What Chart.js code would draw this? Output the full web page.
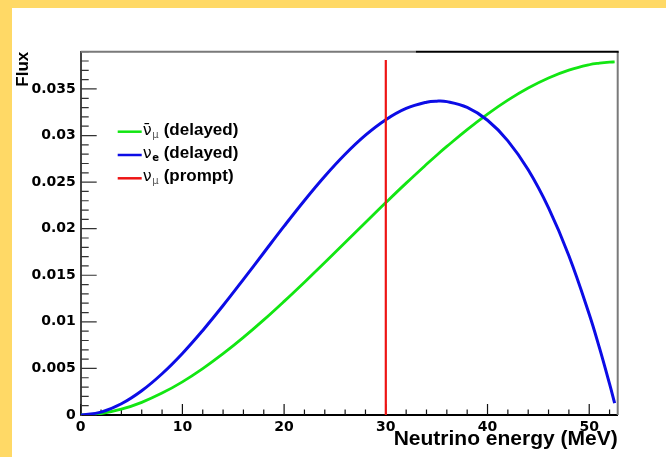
<!DOCTYPE html>
<html>
<head>
<meta charset="utf-8">
<script src="https://cdn.jsdelivr.net/npm/chart.js@4"></script>
<style>
  html, body { margin: 0; padding: 0; }
  body { width: 666px; height: 457px; background: #ffd966; position: relative; overflow: hidden; }
  #frame { position: absolute; left: 12px; top: 8px; width: 654px; height: 449px; background: #fff; }
</style>
</head>
<body>
<div id="frame"><canvas id="fluxChart"></canvas></div>
<script>
// sampled neutrino energies (MeV)
const energy = [0, 2, 4, 6, 8, 10, 12, 14, 16, 18, 20, 22, 24, 26, 28, 30, 32, 34, 35, 36, 38, 40, 42, 44, 46, 48, 50, 51, 52, 52.5];

// delayed muon antineutrino flux
const antiNuMuDelayed = [0, 0.00016, 0.00062, 0.00136, 0.00235, 0.00356, 0.00498, 0.00658, 0.00833, 0.01021,
  0.0122, 0.01426, 0.01637, 0.01852, 0.02067, 0.0228, 0.02489, 0.02691, 0.02789, 0.02883,
  0.03064, 0.0323, 0.0338, 0.0351, 0.03618, 0.03702, 0.0376, 0.03777, 0.03788, 0.0379];

// delayed electron neutrino flux
const nuEDelayed = [0, 0.000314, 0.001206, 0.002603, 0.00443, 0.00661, 0.00908, 0.01175, 0.01456, 0.01742,
  0.02027, 0.02303, 0.02563, 0.02799, 0.03004, 0.0317, 0.03291, 0.03358, 0.03369, 0.03364,
  0.03302, 0.03164, 0.02943, 0.02632, 0.02223, 0.01709, 0.01082, 0.00723, 0.00334, 0.00128];

// prompt muon neutrino line
const promptEnergy = [30, 30];
const promptFlux = [0, 0.0381];

// legend: base symbol, overbar, subscript, trailing text
const legendSymbol = ['\u03bd', '\u03bd', '\u03bd'];
const legendBar = [true, false, false];
const legendSub = ['\u03bc', 'e', '\u03bc'];
const legendText = ['(delayed)', '(delayed)', '(prompt)'];

const colGreen = '#12e612';
const colBlue = '#0c0ce6';
const colRed = '#ee1414';

function toPoints(xs, ys) {
  return xs.map((x, i) => ({ x: x, y: ys[i] }));
}

// inward tick marks: long ones where a label is shown, short otherwise
const innerTicks = {
  id: 'innerTicks',
  beforeDatasetsDraw(chart) {
    const ctx = chart.ctx, a = chart.chartArea;
    const xs = chart.scales.x, ys = chart.scales.y;
    ctx.save();
    ctx.lineWidth = 1.2;
    ctx.strokeStyle = '#111';
    ctx.beginPath();
    xs.ticks.forEach(t => {
      const px = xs.getPixelForValue(t.value);
      const len = t.label ? 11 : 5.5;
      ctx.moveTo(px, a.bottom);
      ctx.lineTo(px, a.bottom - len);
    });
    ctx.stroke();
    ctx.strokeStyle = '#333';
    ctx.beginPath();
    ys.ticks.forEach(t => {
      const py = ys.getPixelForValue(t.value);
      const len = t.label ? 16 : 8;
      ctx.moveTo(a.left, py);
      ctx.lineTo(a.left + len, py);
    });
    ctx.stroke();
    ctx.restore();
  }
};

// top and right edges of the frame
const frameEdges = {
  id: 'frameEdges',
  afterDraw(chart) {
    const ctx = chart.ctx, a = chart.chartArea;
    const split = a.left + (a.right - a.left) * 0.624;
    ctx.save();
    ctx.lineWidth = 2;
    ctx.strokeStyle = '#7a7a7a';
    ctx.beginPath();
    ctx.moveTo(a.left, a.top);
    ctx.lineTo(split, a.top);
    ctx.moveTo(a.right, a.top);
    ctx.lineTo(a.right, a.bottom);
    ctx.stroke();
    ctx.strokeStyle = '#000';
    ctx.beginPath();
    ctx.moveTo(split, a.top);
    ctx.lineTo(a.right + 1, a.top);
    ctx.stroke();
    ctx.restore();
  }
};

// legend with greek symbols and subscripts
const symbolLegend = {
  id: 'symbolLegend',
  afterDraw(chart) {
    const ctx = chart.ctx, a = chart.chartArea;
    const ox = a.left + 37, oy = a.top + 80, gap = 23.3;
    ctx.save();
    chart.data.datasets.forEach((ds, i) => {
      const y = oy + i * gap;
      ctx.strokeStyle = ds.borderColor;
      ctx.lineWidth = 2.5;
      ctx.beginPath();
      ctx.moveTo(ox, y);
      ctx.lineTo(ox + 24, y);
      ctx.stroke();
      ctx.fillStyle = '#000';
      ctx.textBaseline = 'alphabetic';
      ctx.textAlign = 'left';
      ctx.font = '16px "DejaVu Sans"';
      const sym = legendSymbol[i] + (legendBar[i] ? '\u0304' : '');
      ctx.fillText(sym, ox + 25, y + 3);
      ctx.font = (legendSub[i] === 'e' ? 'bold ' : '') + '10px "DejaVu Sans"';
      ctx.fillStyle = legendSub[i] === 'e' ? '#000' : '#555';
      ctx.fillText(legendSub[i], ox + 34.5, y + 6);
      ctx.fillStyle = '#000';
      ctx.font = 'bold 17px "Liberation Sans"';
      ctx.fillText(legendText[i], ox + 46, y + 3);
    });
    ctx.restore();
  }
};

const tickFont = { family: 'DejaVu Sans', weight: 'bold', size: 14 };

new Chart(document.getElementById('fluxChart'), {
  type: 'line',
  data: {
    datasets: [
      { label: 'anti-nu_mu (delayed)', data: toPoints(energy, antiNuMuDelayed), borderColor: colGreen, borderWidth: 2.8, order: 2 },
      { label: 'nu_e (delayed)', data: toPoints(energy, nuEDelayed), borderColor: colBlue, borderWidth: 3, order: 1 },
      { label: 'nu_mu (prompt)', data: toPoints(promptEnergy, promptFlux), borderColor: colRed, borderWidth: 2.2, order: 0 }
    ]
  },
  options: {
    responsive: true,
    maintainAspectRatio: false,
    animation: false,
    layout: { padding: { top: 43.7, right: 48.3, left: 0, bottom: 0 } },
    elements: {
      point: { radius: 0 },
      line: { tension: 0.4, fill: false }
    },
    plugins: { legend: { display: false }, tooltip: { enabled: false } },
    scales: {
      x: {
        type: 'linear',
        min: 0,
        max: 52.8,
        afterFit: s => { s.height = 42; },
        grid: { drawOnChartArea: false, drawTicks: false },
        border: { color: '#000', width: 2 },
        ticks: {
          stepSize: 2,
          includeBounds: false,
          autoSkip: false,
          maxRotation: 0,
          padding: 4,
          color: '#000',
          font: tickFont,
          callback: v => (Math.abs(v % 10) < 1e-6 ? String(v) : '')
        },
        title: {
          display: true,
          text: 'Neutrino energy (MeV)',
          align: 'end',
          color: '#000',
          font: { family: 'Liberation Sans', weight: 'bold', size: 21 },
          padding: { top: 0, bottom: 5 }
        }
      },
      y: {
        min: 0,
        max: 0.039,
        afterFit: s => { s.width = 68.7; },
        grid: { drawOnChartArea: false, drawTicks: false },
        border: { color: '#444', width: 2 },
        ticks: {
          stepSize: 0.001,
          includeBounds: false,
          autoSkip: false,
          padding: 5,
          color: '#000',
          font: tickFont,
          callback: v => {
            const k = v / 0.005;
            return Math.abs(k - Math.round(k)) < 1e-6 ? String(+v.toFixed(3)) : '';
          }
        },
        title: {
          display: true,
          text: 'Flux',
          align: 'end',
          color: '#000',
          font: { family: 'Liberation Sans', weight: 'bold', size: 17 },
          padding: { top: 1, bottom: 0 }
        }
      }
    }
  },
  plugins: [innerTicks, frameEdges, symbolLegend]
});
</script>
</body>
</html>
